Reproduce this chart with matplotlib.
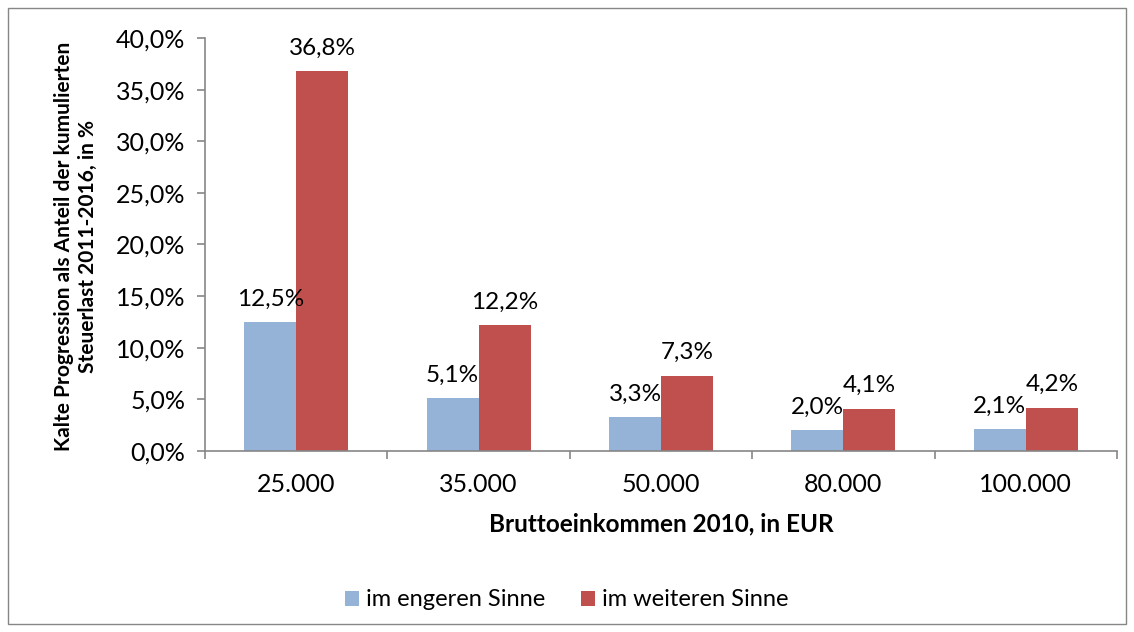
import matplotlib
matplotlib.use("Agg")
import matplotlib.pyplot as plt
from matplotlib.patches import Rectangle
from matplotlib.ticker import FuncFormatter, MultipleLocator
import numpy as np

# Data
categories = ["25.000", "35.000", "50.000", "80.000", "100.000"]
engeren = [12.5, 5.1, 3.3, 2.0, 2.1]
weiteren = [36.8, 12.2, 7.3, 4.1, 4.2]
series_names = ["im engeren Sinne", "im weiteren Sinne"]

blue = "#95B3D7"
red = "#C0504D"
grey = "#868686"

plt.rcParams['font.family'] = ['Lato', 'DejaVu Sans']

fig = plt.figure(figsize=(11.34, 6.32), dpi=100)
ax = fig.add_axes([205/1134, 1 - 451/632, (1117 - 205)/1134, (451 - 38)/632])

# Outer chart frame
fig.patches.append(Rectangle((8/1134, 8/632), 1118/1134, 616/632,
                             transform=fig.transFigure, fill=False,
                             edgecolor=grey, linewidth=1))

x = np.arange(len(categories))
w = 0.285
b1 = ax.bar(x - w/2, engeren, w, color=blue, label=series_names[0])
b2 = ax.bar(x + w/2, weiteren, w, color=red, label=series_names[1])

def pct(v):
    return f"{v:.1f}%".replace(".", ",")

ax.bar_label(b1, labels=[pct(v) for v in engeren], padding=9, fontsize=17.5)
ax.bar_label(b2, labels=[pct(v) for v in weiteren], padding=9, fontsize=17.5)

ax.set_xlim(-0.5, len(categories) - 0.5)
ax.set_ylim(0, 40)
ax.yaxis.set_major_locator(MultipleLocator(5))
ax.yaxis.set_major_formatter(FuncFormatter(lambda v, p: pct(v)))

# category ticks between groups
ax.set_xticks(np.arange(-0.5, len(categories), 1.0))
ax.set_xticklabels([])
ax.set_xticks(x, minor=True)
ax.set_xticklabels(categories, minor=True)
ax.tick_params(axis="x", which="minor", length=0, pad=16, labelsize=18)
ax.tick_params(axis="x", which="major", length=6, color=grey, width=1.2)
ax.tick_params(axis="y", length=6, color=grey, width=1.2, pad=8, labelsize=18)

for s in ["top", "right"]:
    ax.spines[s].set_visible(False)
for s in ["left", "bottom"]:
    ax.spines[s].set_color(grey)
    ax.spines[s].set_linewidth(1.2)

fig.text(661/1134, 1 - 524/632, "Bruttoeinkommen 2010, in EUR",
         ha="center", va="center", fontsize=17.5, fontweight="bold")
fig.text(76/1134, 1 - 246/632,
         "Kalte Progression als Anteil der kumulierten\nSteuerlast 2011-2016, in %",
         ha="center", va="center", rotation=90, fontsize=15,
         fontweight="bold", linespacing=1.3)

fig.legend(handles=[b1, b2], loc="center", bbox_to_anchor=(567/1134, 1 - 600/632),
           ncol=2, frameon=False, fontsize=17, handlelength=0.6, handleheight=0.6,
           handletextpad=0.3, columnspacing=1.5)

fig.savefig("out.png", dpi=100)
